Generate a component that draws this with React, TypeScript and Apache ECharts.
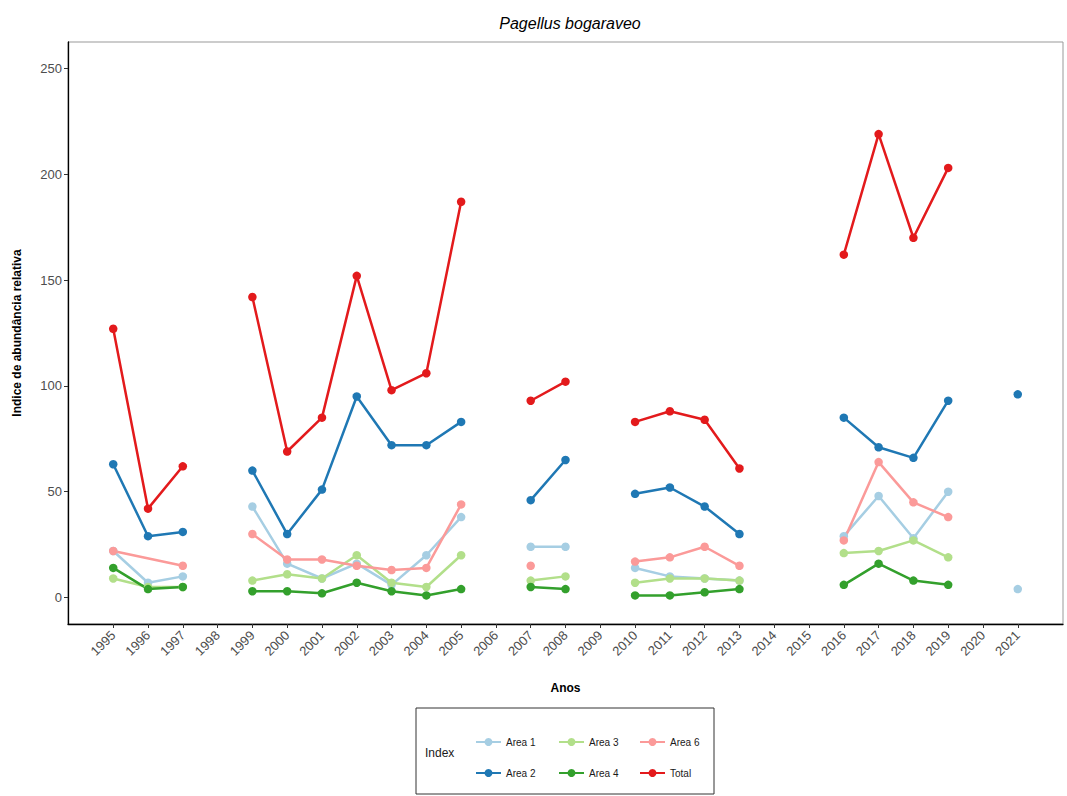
import React, { useEffect, useRef } from "react";
import * as echarts from "echarts";

const years = [1995, 1996, 1997, 1998, 1999, 2000, 2001, 2002, 2003, 2004, 2005, 2006, 2007, 2008, 2009, 2010, 2011, 2012, 2013, 2014, 2015, 2016, 2017, 2018, 2019, 2020, 2021];
const yTicks = [0, 50, 100, 150, 200, 250];

// null = NA (line break); undefined = row absent (line connects over it)
const area1 = [22, 7, 10, null, 43, 16, 9, 16, 6, 20, 38, null, 24, 24, null, 14, 10, 9, 8, null, null, 29, 48, 28, 50, null, 4];
const area2 = [63, 29, 31, null, 60, 30, 51, 95, 72, 72, 83, null, 46, 65, null, 49, 52, 43, 30, null, null, 85, 71, 66, 93, null, 96];
const area3 = [9, 5, 5, null, 8, 11, 9, 20, 7, 5, 20, null, 8, 10, null, 7, 9, 9, 8, null, null, 21, 22, 27, 19, null, null];
const area4 = [14, 4, 5, null, 3, 3, 2, 7, 3, 1, 4, null, 5, 4, null, 1, 1, 2.5, 4, null, null, 6, 16, 8, 6, null, null];
const area6 = [22, undefined, 15, null, 30, 18, 18, 15, 13, 14, 44, null, 15, null, null, 17, 19, 24, 15, null, null, 27, 64, 45, 38, null, null];
const total = [127, 42, 62, null, 142, 69, 85, 152, 98, 106, 187, null, 93, 102, null, 83, 88, 84, 61, null, null, 162, 219, 170, 203, null, null];

const seriesDefs = [
  { name: "Area 1", data: area1, color: "#A6CEE3" },
  { name: "Area 2", data: area2, color: "#1F78B4" },
  { name: "Area 3", data: area3, color: "#B2DF8A" },
  { name: "Area 4", data: area4, color: "#33A02C" },
  { name: "Area 6", data: area6, color: "#FB9A99" },
  { name: "Total", data: total, color: "#E31A1C" },
];

const FONT = "Liberation Sans, Arial, sans-serif";

export default function App() {
  const ref = useRef<HTMLDivElement>(null);
  useEffect(() => {
    document.body.style.margin = "0";
    const chart = echarts.init(ref.current!, undefined, { renderer: "svg" });
    const series = seriesDefs.map((s) => ({
      name: s.name,
      type: "line",
      data: s.data
        .map((v, i) => (v === undefined ? undefined : [years[i], v === null ? "-" : v]))
        .filter((d) => d !== undefined),
      color: s.color,
      symbol: "circle",
      symbolSize: 8.5,
      showSymbol: true,
      connectNulls: false,
      lineStyle: { width: 2.5, color: s.color },
      itemStyle: { color: s.color },
      emphasis: { disabled: true },
    }));
    const legendText = { fontSize: 10, color: "#1a1a1a", fontFamily: FONT };
    const mkLegend = (names: string[], left: number) => ({
      data: names,
      orient: "vertical",
      left,
      top: 732,
      itemWidth: 25,
      itemHeight: 10,
      itemGap: 21,
      textStyle: legendText,
      selectedMode: false,
    });
    chart.setOption({
      animation: false,
      backgroundColor: "#ffffff",
      textStyle: { fontFamily: FONT },
      title: {
        text: "Pagellus bogaraveo",
        left: 565,
        top: 10,
        textAlign: "center",
        textStyle: { fontStyle: "italic", fontWeight: "normal", fontSize: 16, color: "#000", fontFamily: FONT },
      },
      grid: {
        left: 68,
        right: 4,
        top: 42,
        bottom: 172,
        show: true,
        borderColor: "#999",
        borderWidth: 1,
        containLabel: false,
      },
      legend: [
        mkLegend(["Area 1", "Area 2"], 470),
        mkLegend(["Area 3", "Area 4"], 553),
        mkLegend(["Area 6", "Total"], 634),
      ],
      graphic: [
        {
          type: "rect",
          shape: { x: 416, y: 708, width: 298, height: 86 },
          style: { fill: "none", stroke: "#333", lineWidth: 1 },
          silent: true,
        },
        {
          type: "text",
          x: 425,
          y: 747,
          style: { text: "Index", fontSize: 12, fill: "#1a1a1a", fontFamily: FONT },
          silent: true,
        },
      ],
      xAxis: {
        type: "value",
        min: 1993.7,
        max: 2022.3,
        name: "Anos",
        nameLocation: "middle",
        nameGap: 58,
        nameTextStyle: { fontWeight: "bold", fontSize: 12, color: "#000", fontFamily: FONT },
        axisLine: { show: true, onZero: false, lineStyle: { color: "#000", width: 1.3 } },
        axisTick: { show: true, customValues: years, length: 4, lineStyle: { color: "#333" } },
        axisLabel: {
          customValues: years,
          rotate: 45,
          fontSize: 13,
          color: "#4D4D4D",
          margin: 9,
          formatter: (v: number) => String(Math.round(v)),
        },
        splitLine: { show: false },
      },
      yAxis: {
        type: "value",
        min: -12.5,
        max: 262.5,
        name: "Indice de abundância relativa",
        nameLocation: "middle",
        nameGap: 45,
        nameRotate: 90,
        nameTextStyle: { fontWeight: "bold", fontSize: 12, color: "#000", fontFamily: FONT },
        axisLine: { show: true, onZero: false, lineStyle: { color: "#000", width: 1.3 } },
        axisTick: { show: true, customValues: yTicks, length: 4, lineStyle: { color: "#333" } },
        axisLabel: {
          customValues: yTicks,
          fontSize: 13,
          color: "#4D4D4D",
          margin: 6,
        },
        splitLine: { show: false },
      },
      series,
    });
    return () => chart.dispose();
  }, []);
  return <div ref={ref} style={{ width: 1067, height: 796 }} />;
}
